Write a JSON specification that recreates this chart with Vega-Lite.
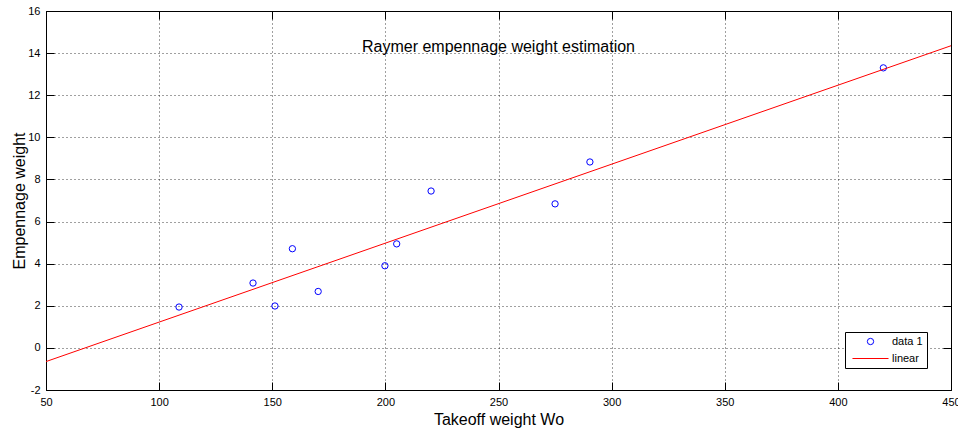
{
  "$schema": "https://vega.github.io/schema/vega-lite/v6.json",
  "width": 905,
  "height": 379,
  "autosize": {"type": "none"},
  "padding": {"left": 46, "top": 11, "right": 7, "bottom": 41},
  "background": "white",
  "title": {
    "text": "Raymer empennage weight estimation",
    "anchor": "middle",
    "offset": -50,
    "font": "Liberation Sans",
    "fontSize": 16,
    "fontWeight": "normal",
    "color": "black"
  },
  "config": {
    "view": {"stroke": null},
    "font": "Liberation Sans",
    "axis": {
      "domainColor": "black",
      "tickColor": "black",
      "tickSize": -8,
      "labelColor": "black",
      "labelFont": "Liberation Sans",
      "labelFontSize": 11,
      "labelFlush": false,
      "labelOverlap": false,
      "titleFont": "Liberation Sans",
      "titleFontSize": 16,
      "titleFontWeight": "normal",
      "titleColor": "black",
      "gridColor": "black",
      "gridDash": [1, 3],
      "gridOpacity": 0.75
    },
    "legend": {
      "title": null,
      "orient": "none",
      "legendX": 799,
      "legendY": 321,
      "strokeColor": "black",
      "fillColor": "white",
      "padding": 4,
      "symbolSize": 40,
      "symbolOffset": 16,
      "symbolStrokeWidth": 1,
      "labelOffset": 16,
      "labelFont": "Liberation Sans",
      "labelFontSize": 11,
      "labelColor": "black",
      "rowPadding": 5
    }
  },
  "datasets": {
    "obs": [
      {"wo": 108.8, "we": 1.94, "series": "data 1"},
      {"wo": 141.5, "we": 3.08, "series": "data 1"},
      {"wo": 151.2, "we": 1.99, "series": "data 1"},
      {"wo": 158.9, "we": 4.71, "series": "data 1"},
      {"wo": 170.3, "we": 2.68, "series": "data 1"},
      {"wo": 199.8, "we": 3.90, "series": "data 1"},
      {"wo": 205.0, "we": 4.94, "series": "data 1"},
      {"wo": 220.2, "we": 7.45, "series": "data 1"},
      {"wo": 275.0, "we": 6.84, "series": "data 1"},
      {"wo": 290.4, "we": 8.83, "series": "data 1"},
      {"wo": 420.1, "we": 13.30, "series": "data 1"}
    ],
    "fit": [
      {"wo": 50, "we": -0.65, "series": "linear"},
      {"wo": 450, "we": 14.35, "series": "linear"}
    ]
  },
  "layer": [
    {
      "data": {"name": "obs"},
      "mark": {"type": "point", "filled": false, "size": 40, "strokeWidth": 1, "opacity": 1},
      "encoding": {
        "x": {
          "field": "wo", "type": "quantitative",
          "scale": {"domain": [50, 450], "nice": false, "zero": false},
          "axis": {
            "orient": "bottom",
            "title": "Takeoff weight Wo",
            "values": [50, 100, 150, 200, 250, 300, 350, 400, 450],
            "grid": true,
            "labelPadding": 14,
            "titlePadding": 4
          }
        },
        "y": {
          "field": "we", "type": "quantitative",
          "scale": {"domain": [-2, 16], "nice": false, "zero": false},
          "axis": {
            "orient": "left",
            "title": "Empennage weight",
            "values": [-2, 0, 2, 4, 6, 8, 10, 12, 14, 16],
            "labelExpr": "datum.value < 0 ? '-' + abs(datum.value) : '' + datum.value",
            "grid": true,
            "labelPadding": 14,
            "titlePadding": 0
          }
        },
        "color": {
          "field": "series", "type": "nominal",
          "scale": {"domain": ["data 1", "linear"], "range": ["#0000ff", "#ff0000"]}
        },
        "shape": {
          "field": "series", "type": "nominal",
          "scale": {"domain": ["data 1", "linear"], "range": ["circle", "M-5.7,0L5.7,0"]}
        }
      }
    },
    {
      "data": {"name": "fit"},
      "mark": {"type": "line", "strokeWidth": 1, "clip": true},
      "encoding": {
        "x": {
          "field": "wo", "type": "quantitative",
          "axis": {
            "orient": "top", "title": null, "labels": false, "grid": false,
            "values": [50, 100, 150, 200, 250, 300, 350, 400, 450]
          }
        },
        "y": {
          "field": "we", "type": "quantitative",
          "axis": {
            "orient": "right", "title": null, "labels": false, "grid": false,
            "values": [-2, 0, 2, 4, 6, 8, 10, 12, 14, 16]
          }
        },
        "color": {"field": "series", "type": "nominal"}
      }
    }
  ],
  "resolve": {"axis": {"x": "independent", "y": "independent"}}
}
